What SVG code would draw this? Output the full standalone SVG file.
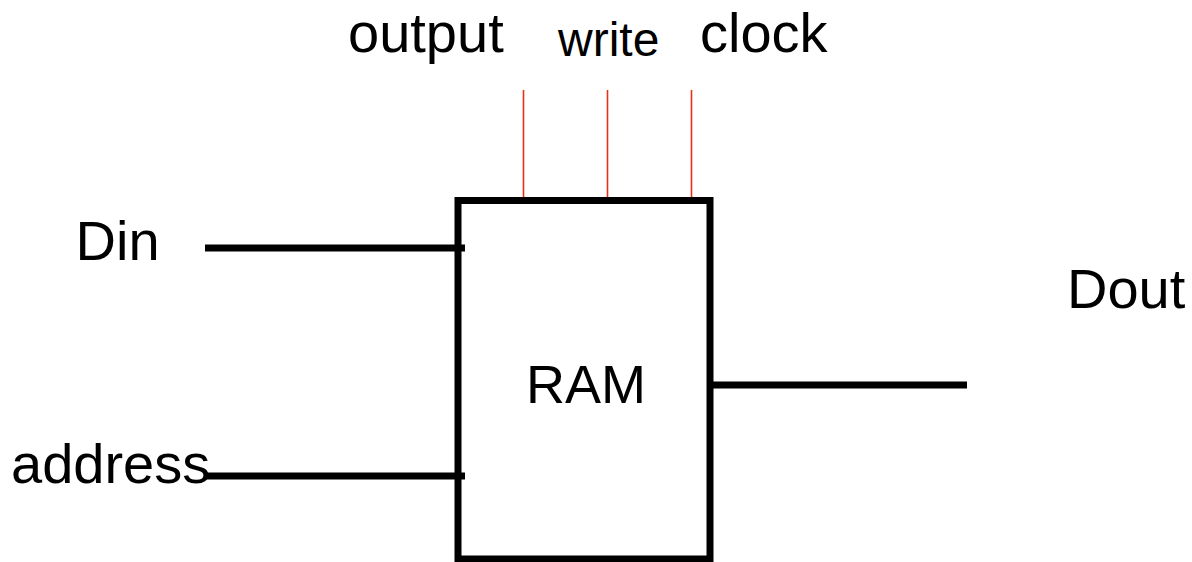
<svg xmlns="http://www.w3.org/2000/svg" width="1192" height="562" viewBox="0 0 1192 562">
<style>
.t{font-family:"Liberation Sans",Arial,sans-serif;fill:#000}
.w{stroke:#000;stroke-width:7;fill:none}
.c{stroke:#e8301a;stroke-width:1.6;fill:none}
</style>
<rect width="1192" height="562" fill="#fff"/>
<g id="connectors">
<line class="w" x1="205" y1="248" x2="465" y2="248"/>
<line class="w" x1="205" y1="476" x2="465" y2="476"/>
<line class="w" x1="710" y1="385" x2="967" y2="385"/>
<line class="c" x1="523.5" y1="90" x2="523.5" y2="202"/>
<line class="c" x1="607.5" y1="90" x2="607.5" y2="202"/>
<line class="c" x1="691.5" y1="90" x2="691.5" y2="202"/>
</g>
<g id="ram">
<rect class="w" x="458" y="200.5" width="252" height="358.5"/>
<text class="t" x="526" y="403" font-size="54">RAM</text>
</g>
<g id="din"><text class="t" x="75.5" y="260" font-size="56">Din</text></g>
<g id="address"><text class="t" x="11" y="483" font-size="56">address</text></g>
<g id="dout"><text class="t" x="1067" y="308" font-size="56">Dout</text></g>
<g id="output"><text class="t" x="348" y="52" font-size="56">output</text></g>
<g id="write"><text class="t" x="558" y="56" font-size="48">write</text></g>
<g id="clock"><text class="t" x="700" y="52" font-size="56">clock</text></g>
</svg>
